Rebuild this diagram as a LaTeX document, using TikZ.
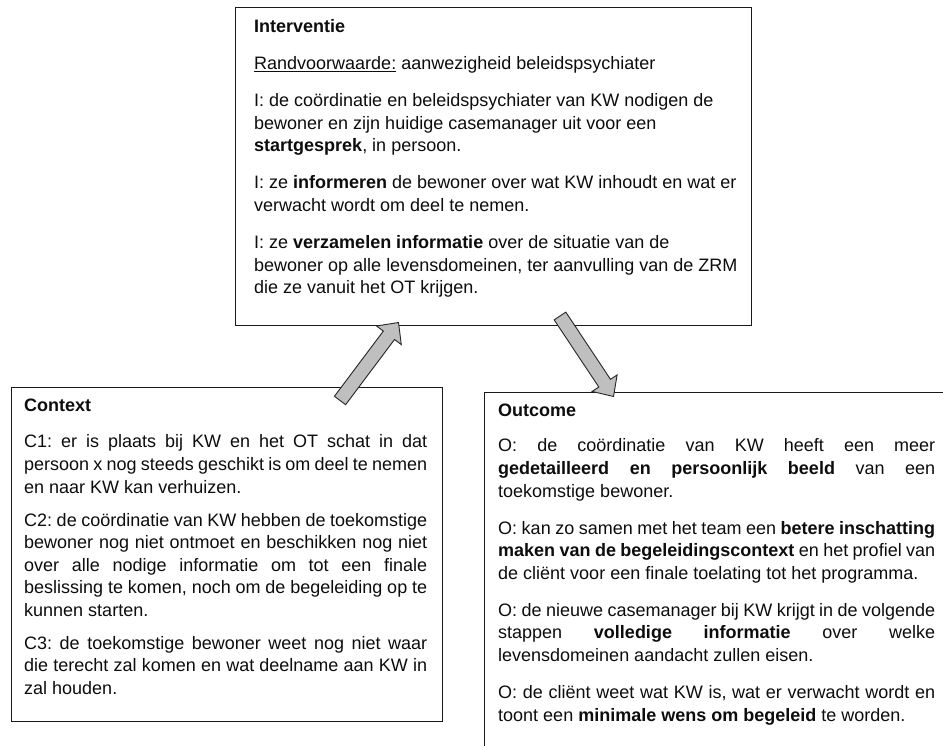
\documentclass[tikz,border=0pt]{standalone}
\usepackage{fontspec}
\setmainfont{Liberation Sans}
\usetikzlibrary{calc}

\begin{document}
\begin{tikzpicture}[x=1pt,y=-1pt,
  frame/.style={draw=black!90, line width=1.1pt, inner sep=0pt, anchor=north west},
  body/.style={anchor=north west, inner sep=0pt, text=black!95,
    font=\fontsize{18}{22.6}\selectfont},
  blockarrow/.style={draw=black!85, line width=0.9pt, fill=black!25, line join=miter}
]
% page area
\clip (0,0) rectangle (943,746);
\fill[white] (0,0) rectangle (943,746);

% boxes
\node[frame, minimum width=516pt, minimum height=318pt] (int) at (235,7) {};
\node[frame, minimum width=431pt, minimum height=334pt] (ctx) at (11,387) {};
\node[frame, minimum width=520pt, minimum height=420pt] (out) at (484,391.5) {};

% Interventie
\node[body, text width=580pt, align=flush left] (inttext) at (254,19.5) {%
  \parindent=0pt\parskip=14.4pt\hyphenpenalty=10000\frenchspacing
  \textbf{Interventie}\par
  \underline{Randvoorwaarde:} aanwezigheid beleidspsychiater\par
  I: de coördinatie en beleidspsychiater van KW nodigen de\\
  bewoner en zijn huidige casemanager uit voor een\\
  \textbf{startgesprek}, in persoon.\par
  I: ze \textbf{informeren} de bewoner over wat KW inhoudt en wat er\\
  verwacht wordt om deel te nemen.\par
  I: ze \textbf{verzamelen informatie} over de situatie van de\\
  bewoner op alle levensdomeinen, ter aanvulling van de ZRM\\
  die ze vanuit het OT krijgen.\par};

% Context
\node[body, text width=403pt, align=justify] (ctxtext) at (24,398.5) {%
  \parindent=0pt\parskip=10.3pt\hyphenpenalty=10000\frenchspacing
  \spaceskip=0.278em plus 1.5em minus 0.12em
  \textbf{Context}\par\vspace{3.8pt}
  C1: er is plaats bij KW en het OT schat in dat\linebreak
  persoon x nog steeds geschikt is om deel te nemen\linebreak
  en naar KW kan verhuizen.\par
  C2: de coördinatie van KW hebben de toekomstige\linebreak
  bewoner nog niet ontmoet en beschikken nog niet\linebreak
  over alle nodige informatie om tot een finale\linebreak
  beslissing te komen, noch om de begeleiding op te\linebreak
  kunnen starten.\par
  C3: de toekomstige bewoner weet nog niet waar\linebreak
  die terecht zal komen en wat deelname aan KW in\linebreak
  zal houden.\par};

% Outcome
\node[body, text width=437pt, align=justify] (outtext) at (498,403.5) {%
  \parindent=0pt\parskip=14.4pt\hyphenpenalty=10000\frenchspacing
  \spaceskip=0.278em plus 3em minus 0.12em
  \textbf{Outcome}\par\vspace{-1.3pt}
  O: de coördinatie van KW heeft een meer\linebreak
  \textbf{gedetailleerd en persoonlijk beeld} van een\linebreak
  toekomstige bewoner.\par
  O: kan zo samen met het team een \textbf{betere inschatting}\linebreak
  \textbf{maken van de begeleidingscontext} en het profiel van\linebreak
  de cliënt voor een finale toelating tot het programma.\par
  O: de nieuwe casemanager bij KW krijgt in de volgende\linebreak
  stappen \textbf{volledige informatie} over welke\linebreak
  levensdomeinen aandacht zullen eisen.\par
  O: de cliënt weet wat KW is, wat er verwacht wordt en\linebreak
  toont een \textbf{minimale wens om begeleid} te worden.\par};

% block arrow: Context -> Interventie
\coordinate (a1t) at (340,400.5);
\coordinate (a1h) at (398.5,322.5);
\coordinate (a1b) at ($(a1h)!16pt!(a1t)$);
\draw[blockarrow] ($(a1t)!7pt!90:(a1h)$) -- ($(a1b)!7pt!-90:(a1t)$)
  -- ($(a1b)!15.5pt!-90:(a1t)$) -- (a1h) -- ($(a1b)!15.5pt!90:(a1t)$)
  -- ($(a1b)!7pt!90:(a1t)$) -- ($(a1t)!7pt!-90:(a1h)$) -- cycle;

% block arrow: Interventie -> Outcome
\coordinate (a2t) at (560,316);
\coordinate (a2h) at (613.5,396.5);
\coordinate (a2b) at ($(a2h)!16pt!(a2t)$);
\draw[blockarrow] ($(a2t)!7pt!90:(a2h)$) -- ($(a2b)!7pt!-90:(a2t)$)
  -- ($(a2b)!15pt!-90:(a2t)$) -- (a2h) -- ($(a2b)!15pt!90:(a2t)$)
  -- ($(a2b)!7pt!90:(a2t)$) -- ($(a2t)!7pt!-90:(a2h)$) -- cycle;
\end{tikzpicture}
\end{document}
